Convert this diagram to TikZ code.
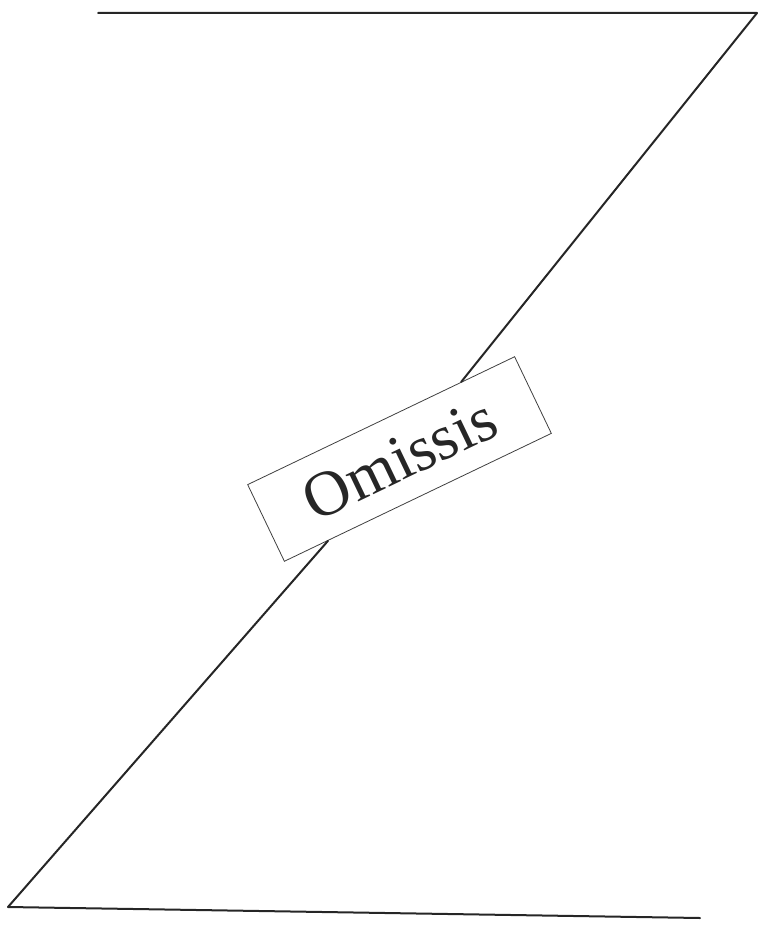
\documentclass[tikz,border=0pt]{standalone}
\usepackage{fontspec}
\setmainfont{Liberation Serif}
\begin{document}
\begin{tikzpicture}[x=1pt,y=-1pt,
  zline/.style={draw=black!85, line width=2pt, line cap=round, line join=round},
  omitbox/.style={draw=black!75, line width=0.8pt, fill=white, rotate=25.6,
    minimum width=296pt, minimum height=85pt, inner sep=0pt,
    text=black!85, font=\fontsize{64}{70}\selectfont}]
\useasboundingbox (0,0) rectangle (760,934);
\coordinate (tl) at (98,13);
\coordinate (tr) at (757,13);
\coordinate (bl) at (8,907);
\coordinate (br) at (700,918);
\node[omitbox] (box) at (399.5,459) {Omissis};
\draw[zline] (tl) -- (tr) -- (box);
\draw[zline] (box) -- (bl) -- (br);
\end{tikzpicture}
\end{document}
